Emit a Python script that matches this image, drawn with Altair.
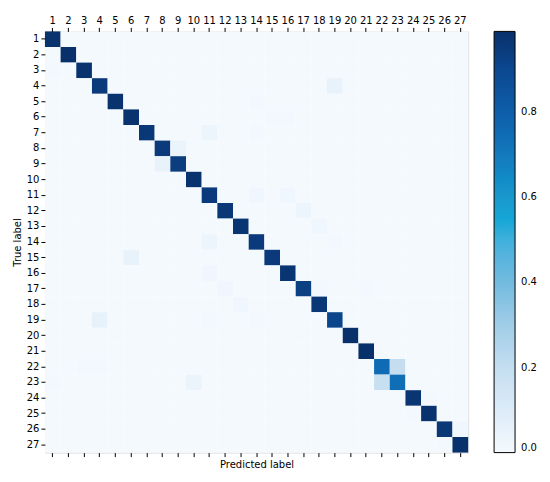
import altair as alt
import pandas as pd

labels = [str(i) for i in range(1, 28)]

diag = [0.98, 0.99, 0.98, 0.95, 0.98, 0.98, 0.96, 0.95, 0.94, 0.98,
        0.95, 0.96, 0.97, 0.95, 0.95, 0.97, 0.93, 0.96, 0.91, 0.99,
        0.99, 0.75, 0.74, 0.97, 0.98, 0.96, 0.99]

off_rows = [3, 4, 5, 6, 6, 7, 7, 8, 9, 11, 11, 12, 13, 14, 14, 15, 16, 17, 17, 17,
            18, 19, 19, 19, 22, 22, 22, 23, 23, 23, 24, 25, 26, 27]
off_cols = [1, 19, 14, 15, 16, 11, 14, 9, 8, 14, 16, 17, 18, 11, 19, 6, 11, 12, 18, 21,
            13, 4, 11, 14, 3, 4, 23, 1, 10, 22, 25, 24, 27, 26]
off_vals = [0.01, 0.05, 0.01, 0.01, 0.01, 0.03, 0.01, 0.04, 0.05, 0.02, 0.02, 0.03, 0.02, 0.03, 0.01,
            0.05, 0.02, 0.02, 0.01, 0.01, 0.02, 0.06, 0.01, 0.01, 0.01, 0.01, 0.20, 0.01, 0.04,
            0.19, 0.01, 0.01, 0.02, 0.01]

mat = {(r, c): 0.0 for r in range(1, 28) for c in range(1, 28)}
for i in range(27):
    mat[(i + 1, i + 1)] = diag[i]
for r, c, v in zip(off_rows, off_cols, off_vals):
    mat[(r, c)] = v

df = pd.DataFrame([{"true": str(r), "pred": str(c), "v": v} for (r, c), v in mat.items()])

stops = [0.0, 0.1, 0.2, 0.3, 0.4, 0.5, 0.55, 0.6, 0.7, 0.8, 0.9, 0.99]
colors = ["#f4f9fe", "#dcebf7", "#c4def0", "#a0cde7", "#72bbdf", "#3fb0dc", "#14a6d6",
          "#1a98cd", "#1479bd", "#0e5ea9", "#0b4890", "#08306b"]

font = "DejaVu Sans"
xscale = alt.Scale(paddingInner=0, paddingOuter=0)
yscale = alt.Scale(paddingInner=0, paddingOuter=0)
yaxis = alt.Axis(title="True label", labelFontSize=10, titleFontSize=10, titleFontWeight="normal",
                 labelColor="black", titleColor="black", tickColor="black", domain=False,
                 tickSize=4, labelPadding=2, titlePadding=4, labelFont=font, titleFont=font)

heat = alt.Chart(df).mark_rect().encode(
    x=alt.X("pred:O", sort=labels, scale=xscale,
            axis=alt.Axis(orient="top", title=None, labelAngle=0, labelFontSize=10, labelColor="black",
                          tickColor="black", tickSize=4, labelPadding=2, domain=False, labelFont=font)),
    y=alt.Y("true:O", sort=labels, scale=yscale, axis=yaxis),
    color=alt.Color("v:Q", scale=alt.Scale(domain=stops, range=colors, clamp=True),
                    legend=alt.Legend(title=None, orient="right", offset=26, gradientLength=422,
                                      gradientThickness=21, gradientStrokeColor="black",
                                      gradientStrokeWidth=1, values=[0.0, 0.2, 0.4, 0.6, 0.8],
                                      format=".1f", labelFontSize=10, labelColor="black",
                                      labelFont=font, labelOffset=6)),
)

bottom = alt.Chart(df).mark_rect(opacity=0).encode(
    x=alt.X("pred:O", sort=labels, scale=xscale,
            axis=alt.Axis(orient="bottom", title="Predicted label", labels=False, tickColor="black",
                          tickSize=4, domain=False, titleFontSize=10, titleFontWeight="normal",
                          titleColor="black", titlePadding=2, titleFont=font)),
    y=alt.Y("true:O", sort=labels, scale=yscale, axis=yaxis),
)

chart = alt.layer(heat, bottom).resolve_axis(x="independent").properties(
    width=424, height=422,
    padding={"left": 4, "top": 7, "right": 5, "bottom": 5},
).configure_view(stroke="black", strokeWidth=1).configure(background="white")

chart.save("out.html", embed_options={"renderer": "svg", "actions": False})
